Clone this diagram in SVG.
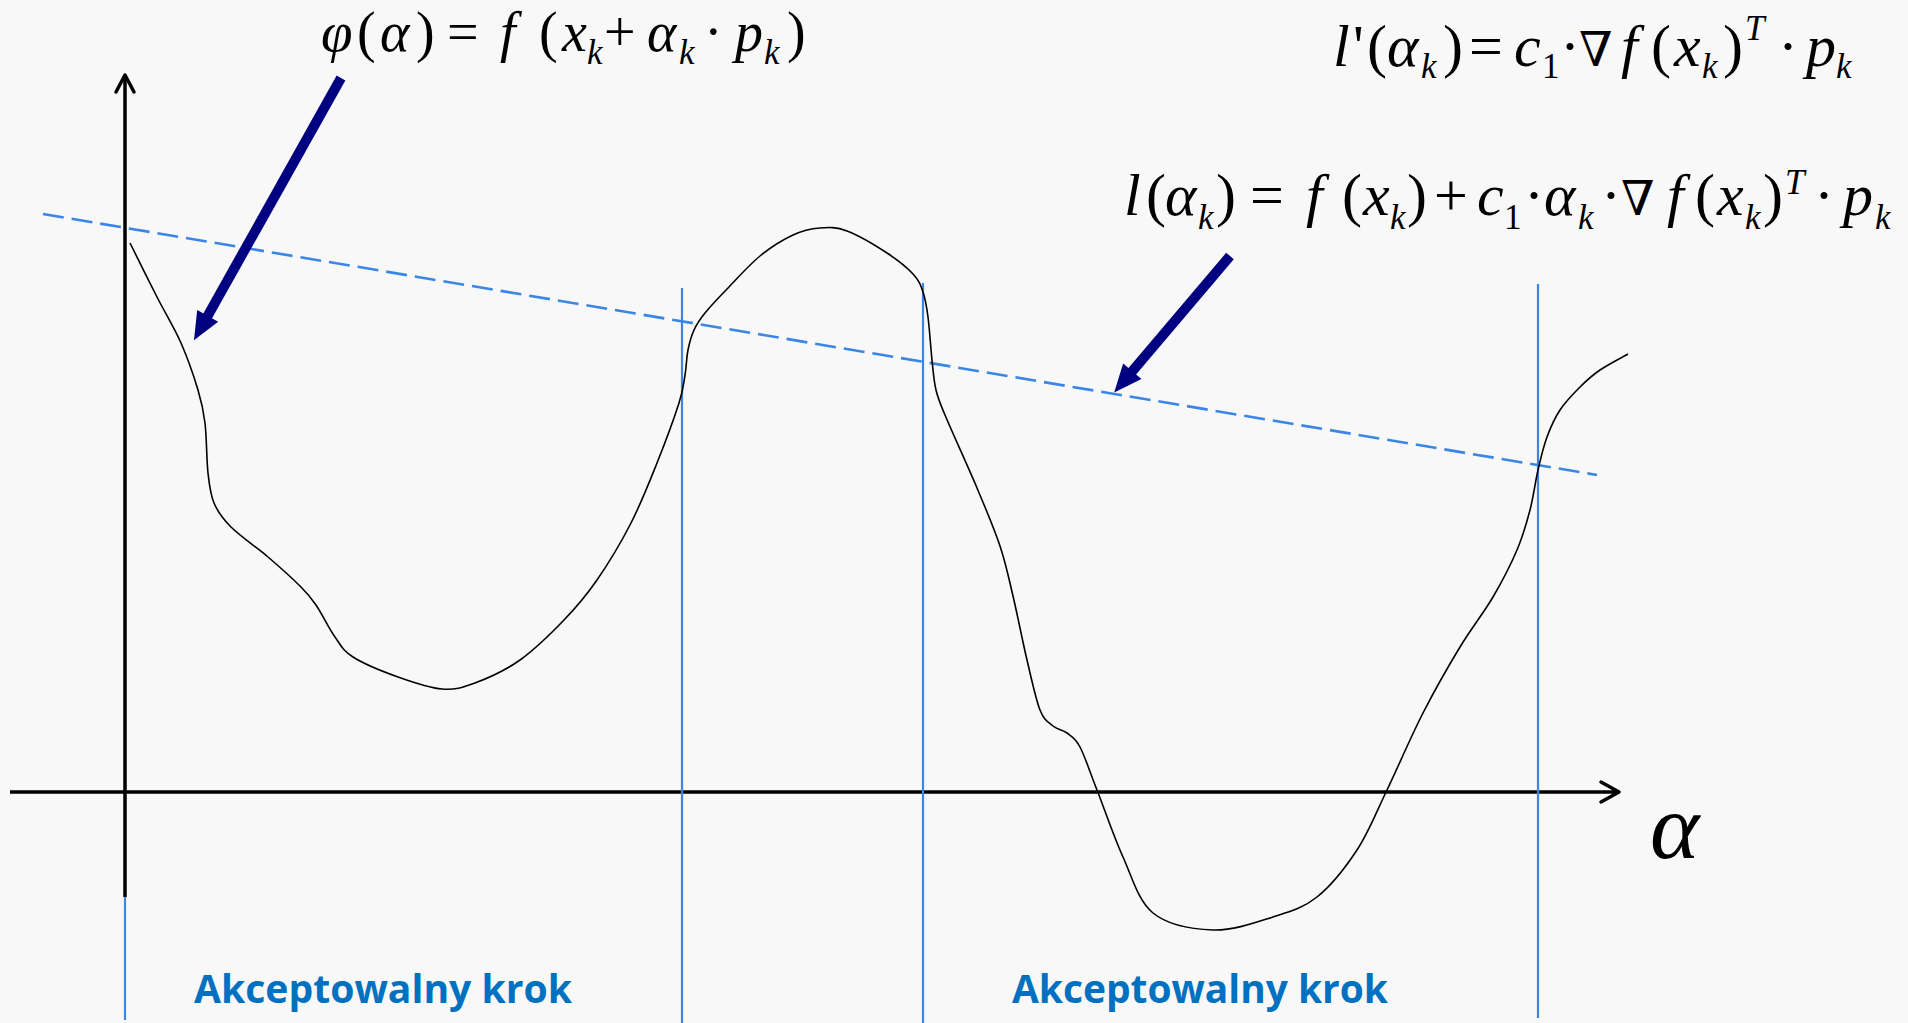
<svg xmlns="http://www.w3.org/2000/svg" width="1908" height="1023" viewBox="0 0 1908 1023">
<style>
.bg{fill:#f8f8f8}
.axis{stroke:#000;stroke-width:3.5;fill:none;stroke-linecap:butt}
.ahead{stroke:#000;stroke-width:3.5;fill:none;stroke-linecap:round;stroke-linejoin:round}
.vline{stroke:#3a86e6;stroke-width:2.2;fill:none}
.dash{stroke:#3a86e6;stroke-width:2.6;fill:none;stroke-dasharray:21 8}
.curve{stroke:#000;stroke-width:1.6;fill:none}
.ptr{stroke:#000080;stroke-width:10;fill:none;marker-end:url(#navyhead)}
.i{font-style:italic}
.s{font-size:35px}
.nab{font-family:'DejaVu Serif','Liberation Serif',serif;font-size:48px}
</style>
<defs>
<marker id="navyhead" markerUnits="strokeWidth" markerWidth="3" markerHeight="2.6" refX="0.2" refY="1.2" orient="auto" overflow="visible">
<path d="M0,0 L2.8,1.2 L0,2.4 z" fill="#000080"/>
</marker>
</defs>
<rect class="bg" x="0" y="0" width="1908" height="1023"/>

<g id="axes">
<line class="axis" x1="125" y1="897" x2="125" y2="76"/>
<polyline class="ahead" points="116,92 125,75 134,92"/>
<line class="axis" x1="10" y1="792" x2="1618" y2="792"/>
<polyline class="ahead" points="1601,782 1619,792 1601,802"/>
</g>

<g id="bounds">
<line class="vline" x1="125" y1="897" x2="125" y2="1020"/>
<line class="vline" x1="682" y1="288" x2="682" y2="1023"/>
<line class="vline" x1="923" y1="283" x2="923" y2="1023"/>
<line class="vline" x1="1538" y1="284" x2="1538" y2="1018"/>
</g>

<g id="line-l">
<line class="dash" x1="43" y1="214" x2="1597" y2="475"/>
</g>

<g id="curve-phi">
<path class="curve" d="M130,243 C134.5,252 148.5,280.3 157,297 C165.5,313.7 174.2,327.5 181,343 C187.8,358.5 194,376.7 198,390 C202,403.3 203.3,409.2 205,423 C206.7,436.8 206.5,459.7 208,473 C209.5,486.3 210.2,494 214,503 C217.8,512 222,518 231,527 C240,536 256.3,547 268,557 C279.7,567 293,579 301,587 C309,595 310.3,596.7 316,605 C321.7,613.3 328.8,628.3 335,637 C341.2,645.7 342.5,650.3 353,657 C363.5,663.7 383.2,671.7 398,677 C412.8,682.3 429.2,688 442,689 C454.8,690 462,687.8 475,683 C488,678.2 505.2,670.5 520,660 C534.8,649.5 551.2,633.3 564,620 C576.8,606.7 585.8,596.2 597,580 C608.2,563.8 621,542.5 631,523 C641,503.5 649,483 657,463 C665,443 674.3,417.7 679,403 C683.7,388.3 683.5,383.8 685,375 C686.5,366.2 686.5,357.5 688,350 C689.5,342.5 691.2,336.2 694,330 C696.8,323.8 699.5,319.8 705,313 C710.5,306.2 717.8,298.5 727,289 C736.2,279.5 749,265 760,256 C771,247 783,239.7 793,235 C803,230.3 811,228.7 820,228 C829,227.3 835.8,226.8 847,231 C858.2,235.2 876,245.8 887,253 C898,260.2 907,267.5 913,274 C919,280.5 920.5,284.8 923,292 C925.5,299.2 926.5,305.7 928,317 C929.5,328.3 930.7,347.8 932,360 C933.3,372.2 933.8,380.8 936,390 C938.2,399.2 938.2,398.7 945,415 C951.8,431.3 967.8,466.2 977,488 C986.2,509.8 994,528 1000,546 C1006,564 1008.5,577 1013,596 C1017.5,615 1022.5,641 1027,660 C1031.5,679 1035.7,699 1040,710 C1044.3,721 1048.5,722.2 1053,726 C1057.5,729.8 1062.5,729.5 1067,733 C1071.5,736.5 1075,737.5 1080,747 C1085,756.5 1089.8,771.7 1097,790 C1104.2,808.3 1113.7,836.5 1123,857 C1132.3,877.5 1138,900.8 1153,913 C1168,925.2 1193,929.3 1213,930 C1233,930.7 1255.7,922.5 1273,917 C1290.3,911.5 1303,908.2 1317,897 C1331,885.8 1345.3,867.8 1357,850 C1368.7,832.2 1376,812.8 1387,790 C1398,767.2 1410.8,736.8 1423,713 C1435.2,689.2 1448.3,666.3 1460,647 C1471.7,627.7 1483.5,613.2 1493,597 C1502.5,580.8 1510.8,564.5 1517,550 C1523.2,535.5 1526.5,523.3 1530,510 C1533.5,496.7 1535.2,482.2 1538,470 C1540.8,457.8 1543.3,447 1547,437 C1550.7,427 1554.5,418.3 1560,410 C1565.5,401.7 1573.3,393.7 1580,387 C1586.7,380.3 1592,375.5 1600,370 C1608,364.5 1623.3,356.7 1628,354"/>
</g>

<g id="connectors">
<line class="ptr" x1="341" y1="78" x2="206.7" y2="317.6"/>
<line class="ptr" x1="1230" y1="256" x2="1131" y2="372.7"/>
</g>

<g id="formula-phi">
<text font-family="Liberation Serif" font-size="56" fill="#000" y="51"><tspan class="i" x="321" font-size="57">φ</tspan><tspan x="357">(</tspan><tspan class="i" x="380">α</tspan><tspan x="416">)</tspan><tspan x="447">=</tspan><tspan class="i" x="500">f</tspan><tspan x="539">(</tspan><tspan class="i" x="562">x</tspan><tspan class="i s" x="587" y="64">k</tspan><tspan x="604" y="51">+</tspan><tspan class="i" x="647">α</tspan><tspan class="i s" x="679" y="64">k</tspan><tspan x="704" y="51">·</tspan><tspan class="i" x="735">p</tspan><tspan class="i s" x="764" y="64">k</tspan><tspan x="787" y="51">)</tspan></text>
</g>

<g id="formula-lprime">
<text font-family="Liberation Serif" font-size="60" fill="#000" y="66"><tspan class="i" x="1333">l</tspan><tspan x="1353">'</tspan><tspan x="1367">(</tspan><tspan class="i" x="1387">α</tspan><tspan class="i s" x="1421" y="78">k</tspan><tspan x="1443" y="66">)</tspan><tspan x="1469">=</tspan><tspan class="i" x="1514">c</tspan><tspan class="s" x="1542" y="78">1</tspan><tspan x="1560" y="66">·</tspan><tspan class="nab" x="1579">∇</tspan><tspan class="i" x="1621">f</tspan><tspan x="1651">(</tspan><tspan class="i" x="1674">x</tspan><tspan class="i s" x="1702" y="78">k</tspan><tspan x="1723" y="66">)</tspan><tspan class="i s" x="1745" y="40">T</tspan><tspan x="1778" y="66">·</tspan><tspan class="i" x="1806">p</tspan><tspan class="i s" x="1836" y="78">k</tspan></text>
</g>

<g id="formula-l">
<text font-family="Liberation Serif" font-size="60" fill="#000" y="215"><tspan class="i" x="1124">l</tspan><tspan x="1146">(</tspan><tspan class="i" x="1165">α</tspan><tspan class="i s" x="1198" y="229">k</tspan><tspan x="1216" y="215">)</tspan><tspan x="1250">=</tspan><tspan class="i" x="1306">f</tspan><tspan x="1342">(</tspan><tspan class="i" x="1363">x</tspan><tspan class="i s" x="1390" y="229">k</tspan><tspan x="1407" y="215">)</tspan><tspan x="1434">+</tspan><tspan class="i" x="1477">c</tspan><tspan class="s" x="1504" y="229">1</tspan><tspan x="1524" y="215">·</tspan><tspan class="i" x="1544">α</tspan><tspan class="i s" x="1578" y="229">k</tspan><tspan x="1601" y="215">·</tspan><tspan class="nab" x="1621">∇</tspan><tspan class="i" x="1667">f</tspan><tspan x="1695">(</tspan><tspan class="i" x="1717">x</tspan><tspan class="i s" x="1745" y="229">k</tspan><tspan x="1763" y="215">)</tspan><tspan class="i s" x="1785" y="194">T</tspan><tspan x="1814" y="215">·</tspan><tspan class="i" x="1843">p</tspan><tspan class="i s" x="1875" y="229">k</tspan></text>
</g>

<g id="label-alpha">
<text font-family="Liberation Serif" font-style="italic" font-size="94" fill="#000" x="1650" y="858">α</text>
</g>

<g id="label-step1">
<text font-family="Open Sans" font-weight="bold" font-size="40" fill="#0070c0" x="194" y="1003" textLength="378" lengthAdjust="spacingAndGlyphs">Akceptowalny krok</text>
</g>
<g id="label-step2">
<text font-family="Open Sans" font-weight="bold" font-size="40" fill="#0070c0" x="1012" y="1003" textLength="376" lengthAdjust="spacingAndGlyphs">Akceptowalny krok</text>
</g>
</svg>
